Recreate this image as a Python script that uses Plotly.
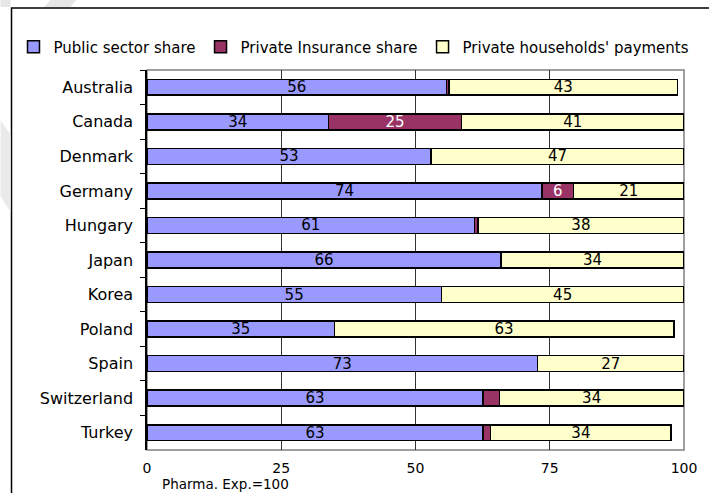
import plotly.graph_objects as go

# Pharmaceutical expenditure by source of financing (total = 100)
countries = ["Australia", "Canada", "Denmark", "Germany", "Hungary", "Japan",
             "Korea", "Poland", "Spain", "Switzerland", "Turkey"]
public_share = [55.8, 33.8, 52.9, 73.6, 61.0, 65.9, 54.8, 34.9, 72.7, 62.6, 62.6]
insurance_share = [0.4, 24.8, 0.0, 5.8, 0.6, 0.0, 0.0, 0.0, 0.0, 3.0, 1.4]
household_share = [42.6, 41.4, 47.1, 20.6, 38.4, 34.1, 45.2, 63.2, 27.3, 34.4, 33.6]
x_ticks = [0, 25, 50, 75, 100]

FONT = "DejaVu Sans, Verdana, sans-serif"
W, H = 709, 493
L, R, T, B = 147, 23, 70, 43
PW, PH = W - L - R, H - T - B


def px_x(v):
    return (v - L) / PW


def px_y(v):
    return 1 - (v - T) / PH


def labels(values):
    return [f"{v:.0f}" if v >= 5 else "" for v in values]


series = [
    ("Public sector share", public_share, "#9999FF", "#000000"),
    ("Private Insurance share", insurance_share, "#993366", "#FFFFFF"),
    ("Private households' payments", household_share, "#FFFFCC", "#000000"),
]

fig = go.Figure()
for name, vals, color, tcolor in series:
    fig.add_trace(go.Bar(
        name=name, y=countries, x=vals, orientation="h",
        marker=dict(color=color, line=dict(color="#000000", width=1.5)),
        text=labels(vals), textposition="inside", insidetextanchor="middle",
        textangle=0, constraintext="none",
        textfont=dict(family=FONT, size=15, color=tcolor),
        hoverinfo="x+name",
    ))

shapes = [
    # plot-area border
    dict(type="rect", xref="x domain", yref="y domain", x0=0, x1=1, y0=0, y1=1,
         line=dict(color="#808080", width=1.5), layer="below"),
    # outer chart frame
    dict(type="rect", xref="paper", yref="paper",
         x0=px_x(11), x1=px_x(715), y0=px_y(8), y1=px_y(500),
         line=dict(color="#000000", width=1.5), layer="below"),
    # faint grey background strokes
    dict(type="path", xref="paper", yref="paper", layer="below",
         path=f"M {px_x(0)},{px_y(0)} L {px_x(10)},{px_y(0)} L {px_x(10)},{px_y(7)} L {px_x(0)},{px_y(7)} Z",
         fillcolor="#e6e6e6", line=dict(width=0)),
    dict(type="path", xref="paper", yref="paper", layer="below",
         path=f"M {px_x(50)},{px_y(0)} L {px_x(76)},{px_y(0)} L {px_x(70)},{px_y(7)} L {px_x(44)},{px_y(7)} Z",
         fillcolor="#e6e6e6", line=dict(width=0)),
    dict(type="path", xref="paper", yref="paper", layer="below",
         path=f"M {px_x(0)},{px_y(120)} L {px_x(10)},{px_y(135)} L {px_x(10)},{px_y(212)} L {px_x(0)},{px_y(196)} Z",
         fillcolor="#eaeaea", line=dict(width=0)),
]

fig.update_layout(
    width=W, height=H,
    margin=dict(l=L, r=R, t=T, b=B, pad=0),
    paper_bgcolor="white", plot_bgcolor="white",
    barmode="stack", bargap=0.54,
    font=dict(family=FONT, size=14, color="#000000"),
    showlegend=True,
    legend=dict(orientation="h", x=px_x(13), xanchor="left", y=px_y(47), yanchor="middle",
                font=dict(family=FONT, size=15, color="#000000"),
                bgcolor="rgba(0,0,0,0)", traceorder="normal", itemclick=False),
    xaxis=dict(range=[0, 100], tickvals=x_ticks, ticktext=[str(t) for t in x_ticks],
               showgrid=True, gridcolor="#333333", gridwidth=1, zeroline=False,
               showline=False, ticks="", ticklabelstandoff=8,
               tickfont=dict(family=FONT, size=14, color="#000000"), fixedrange=True),
    xaxis2=dict(range=[0, 100], tickvals=x_ticks, overlaying="x", side="top",
                showline=True, linecolor="#000000", linewidth=1.5, ticks="outside",
                ticklen=4, tickcolor="#000000", tickwidth=1, showticklabels=False,
                showgrid=False, zeroline=False, fixedrange=True),
    yaxis=dict(categoryorder="array", categoryarray=countries, autorange="reversed",
               showline=True, linecolor="#000000", linewidth=1.5,
               ticks="outside", tickson="boundaries", ticklen=5, tickcolor="#000000",
               showgrid=False, zeroline=False, ticklabelstandoff=9,
               tickfont=dict(family=FONT, size=16, color="#000000"), fixedrange=True),
    shapes=shapes,
    annotations=[dict(text="Pharma. Exp.=100", xref="paper", yref="paper",
                      x=px_x(160), y=px_y(484), xanchor="left", yanchor="middle",
                      showarrow=False, font=dict(family=FONT, size=13.5, color="#000000"))],
)

fig.write_html("out.html")
